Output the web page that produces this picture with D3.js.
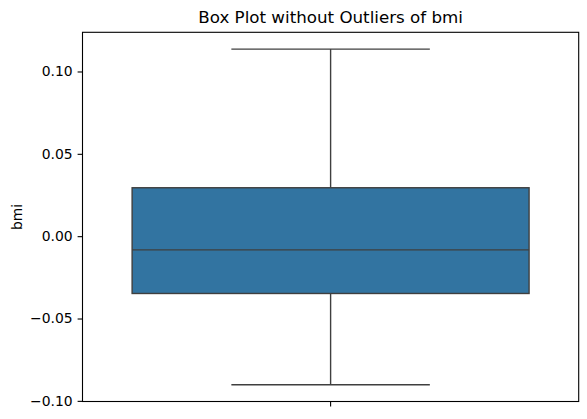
<!DOCTYPE html>
<html>
<head>
<meta charset="utf-8">
<script src="https://cdn.jsdelivr.net/npm/d3@7"></script>
<style>
  body { margin: 0; background: #fff; }
  svg { font-family: "DejaVu Sans", sans-serif; }
</style>
</head>
<body>
<div id="chart"></div>
<script>
// box plot stats
let categories = [""];
let stats = [{whislo: -0.0902, q1: -0.0348, med: -0.0083, q3: 0.0294, whishi: 0.1136}];
let yTicks = [-0.10, -0.05, 0.00, 0.05, 0.10];

let W = 587, H = 419;
let margin = {top: 32.3, right: 8.3, bottom: 17.5, left: 82.5};
let width = W - margin.left - margin.right;
let height = H - margin.top - margin.bottom;

let svg = d3.select("#chart").append("svg")
    .attr("width", W)
    .attr("height", H);

let g = svg.append("g").attr("transform", "translate(" + margin.left + "," + margin.top + ")");

// matplotlib style auto margins of 5%
let lo = d3.min(stats, function(d) { return d.whislo; });
let hi = d3.max(stats, function(d) { return d.whishi; });
let pad = (hi - lo) * 0.05;

let x = d3.scaleBand()
    .domain(categories)
    .range([0, width])
    .paddingInner(0)
    .paddingOuter(0);
let y = d3.scaleLinear()
    .domain([lo - pad, hi + pad])
    .range([height, 0]);

let boxW = x.bandwidth() * 0.8;
let capW = boxW * 0.5;
let lineColor = "#3f3f3f";

let box = g.selectAll(".box")
    .data(stats)
    .enter().append("g")
    .attr("class", "box")
    .attr("transform", function(d, i) { return "translate(" + (x(categories[i]) + x.bandwidth() / 2) + ",0)"; });

// whiskers
box.append("line")
    .attr("x1", 0).attr("x2", 0)
    .attr("y1", function(d) { return y(d.q3); })
    .attr("y2", function(d) { return y(d.whishi); })
    .attr("stroke", lineColor).attr("stroke-width", 1.4);
box.append("line")
    .attr("x1", 0).attr("x2", 0)
    .attr("y1", function(d) { return y(d.q1); })
    .attr("y2", function(d) { return y(d.whislo); })
    .attr("stroke", lineColor).attr("stroke-width", 1.4);

// caps
box.append("line")
    .attr("x1", -capW / 2).attr("x2", capW / 2)
    .attr("y1", function(d) { return y(d.whishi); })
    .attr("y2", function(d) { return y(d.whishi); })
    .attr("stroke", lineColor).attr("stroke-width", 1.4);
box.append("line")
    .attr("x1", -capW / 2).attr("x2", capW / 2)
    .attr("y1", function(d) { return y(d.whislo); })
    .attr("y2", function(d) { return y(d.whislo); })
    .attr("stroke", lineColor).attr("stroke-width", 1.4);

// box
box.append("rect")
    .attr("x", -boxW / 2)
    .attr("width", boxW)
    .attr("y", function(d) { return y(d.q3); })
    .attr("height", function(d) { return y(d.q1) - y(d.q3); })
    .attr("fill", "#3274a1")
    .attr("stroke", lineColor)
    .attr("stroke-width", 1.4);

// median
box.append("line")
    .attr("x1", -boxW / 2).attr("x2", boxW / 2)
    .attr("y1", function(d) { return y(d.med); })
    .attr("y2", function(d) { return y(d.med); })
    .attr("stroke", lineColor).attr("stroke-width", 1.4);

// axes
let yAxis = g.append("g")
    .call(d3.axisLeft(y).tickValues(yTicks).tickSizeOuter(0).tickSize(4.9).tickPadding(5)
        .tickFormat(function(d) { return d3.format(".2f")(d).replace("-", "\u2212"); }));
yAxis.select(".domain").remove();
yAxis.selectAll("text").attr("font-size", "13.9px").attr("fill", "#000").attr("font-family", "DejaVu Sans");
yAxis.selectAll("line").attr("stroke", "#000").attr("stroke-width", 1.1);

let xAxis = g.append("g")
    .attr("transform", "translate(0," + height + ")")
    .call(d3.axisBottom(x).tickSizeOuter(0).tickSize(4.9));
xAxis.select(".domain").remove();
xAxis.selectAll("line").attr("stroke", "#000").attr("stroke-width", 1.1);

// frame
g.append("rect")
    .attr("width", width)
    .attr("height", height)
    .attr("fill", "none")
    .attr("stroke", "#000")
    .attr("stroke-width", 1.1);

svg.append("text")
    .attr("x", margin.left + width / 2)
    .attr("y", 23)
    .attr("text-anchor", "middle")
    .attr("font-size", "16.7px")
    .text("Box Plot without Outliers of bmi");

svg.append("text")
    .attr("transform", "translate(22," + (margin.top + height / 2) + ") rotate(-90)")
    .attr("text-anchor", "middle")
    .attr("font-size", "13.9px")
    .text("bmi");
</script>
</body>
</html>
